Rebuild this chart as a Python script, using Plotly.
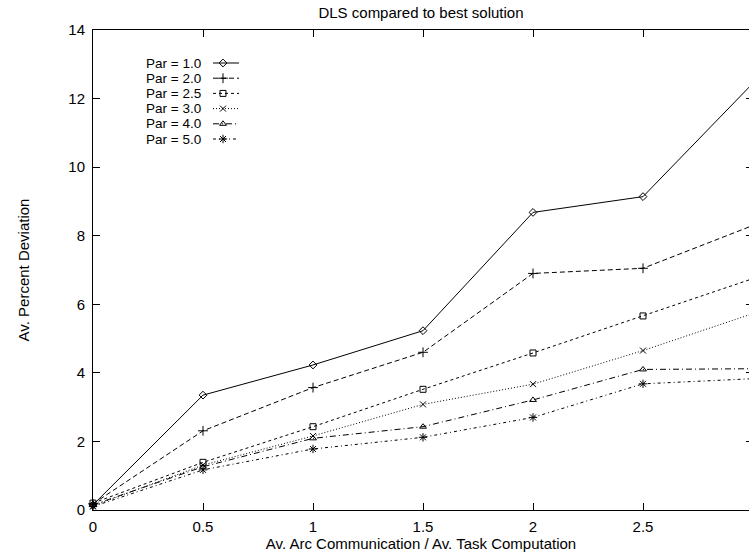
import plotly.graph_objects as go

# ---- data ----
x_vals = [0, 0.5, 1, 1.5, 2, 2.5, 3]
series_names = ["Par = 1.0", "Par = 2.0", "Par = 2.5", "Par = 3.0", "Par = 4.0", "Par = 5.0"]
par_10 = [0.15, 3.35, 4.23, 5.23, 8.68, 9.14, 12.45]
par_20 = [0.18, 2.31, 3.57, 4.60, 6.90, 7.05, 8.30]
par_25 = [0.20, 1.39, 2.43, 3.52, 4.58, 5.66, 6.75]
par_30 = [0.12, 1.31, 2.16, 3.08, 3.67, 4.65, 5.73]
par_40 = [0.15, 1.26, 2.09, 2.43, 3.21, 4.10, 4.12]
par_50 = [0.10, 1.17, 1.78, 2.12, 2.70, 3.68, 3.83]
x_tick_vals = [0, 0.5, 1, 1.5, 2, 2.5, 3]
x_tick_text = ["0", "0.5", "1", "1.5", "2", "2.5", "3"]
y_tick_vals = [0, 2, 4, 6, 8, 10, 12, 14]

all_series = [par_10, par_20, par_25, par_30, par_40, par_50]

# ---- styles ----
FONT = "Liberation Sans, Arial, Helvetica, sans-serif"
FS = 15
FS_KEY = 13.5
INK = "#000000"
dashes = ["solid", "5px,3px", "3px,3px", "1px,2px", "6px,3px,1px,3px", "3px,3px,1px,3px"]
symbols = ["diamond-open", "cross-thin-open", "square-open", "x-thin-open", "triangle-up-open", "asterisk-open"]
msizes = [6, 7, 6, 6, 6, 7]

W, H = 749, 553
PLOT_L, PLOT_T, PLOT_B = 93, 30, 510     # plot area in page pixels
ML, MT, MB = PLOT_L, PLOT_T, H - PLOT_B
px_per_unit_x = 220.0
x_max = (W - PLOT_L) / px_per_unit_x     # right part of the frame lies beyond the page edge

fig = go.Figure()
for name, ys, dash, sym, ms in zip(series_names, all_series, dashes, symbols, msizes):
    fig.add_trace(go.Scatter(
        x=x_vals, y=ys, mode="lines+markers", name=name,
        line=dict(color=INK, width=1, dash=dash),
        marker=dict(symbol=sym, size=ms, color=INK, line=dict(color=INK, width=1)),
        cliponaxis=False, showlegend=False,
    ))

# ---- manual gnuplot-style key (text, then sample) on a pixel overlay axis ----
key_text_right = 202
key_sample_x0, key_sample_x1, key_marker_x = 213, 239, 223
key_row0, key_row_step = 63, 15.2
for i, (name, dash, sym, ms) in enumerate(zip(series_names, dashes, symbols, msizes)):
    ry = key_row0 + i * key_row_step
    fig.add_trace(go.Scatter(
        x=[key_sample_x0, key_sample_x1], y=[ry, ry], mode="lines",
        line=dict(color=INK, width=1, dash=dash),
        xaxis="x3", yaxis="y3", showlegend=False, hoverinfo="skip",
    ))
    fig.add_trace(go.Scatter(
        x=[key_marker_x], y=[ry], mode="markers",
        marker=dict(symbol=sym, size=ms, color=INK, line=dict(color=INK, width=1)),
        xaxis="x3", yaxis="y3", showlegend=False, hoverinfo="skip",
    ))
    fig.add_annotation(
        x=key_text_right, y=ry, xref="x3", yref="y3", text=name,
        showarrow=False, xanchor="right", yanchor="middle", borderpad=0,
        font=dict(family=FONT, size=FS_KEY, color=INK),
    )

fig.update_layout(
    width=W, height=H,
    margin=dict(l=ML, r=0, t=MT, b=MB, pad=0),
    paper_bgcolor="white", plot_bgcolor="white",
    font=dict(family=FONT, size=FS, color=INK),
    showlegend=False,
    title=dict(text="DLS compared to best solution", x=0.5, xref="paper",
               y=1 - 13 / H, yref="container", yanchor="middle",
               font=dict(family=FONT, size=FS, color=INK)),
    xaxis=dict(
        range=[0, x_max], tickvals=x_tick_vals, ticktext=x_tick_text,
        ticks="inside", ticklen=7, tickwidth=1, tickcolor=INK,
        showline=True, linecolor=INK, linewidth=1, mirror="ticks",
        showgrid=False, zeroline=False, ticklabelstandoff=3,
        title=dict(text="Av. Arc Communication / Av. Task Computation", standoff=0,
                   font=dict(family=FONT, size=FS, color=INK)),
    ),
    yaxis=dict(
        range=[0, 14], tickvals=y_tick_vals,
        ticks="inside", ticklen=7, tickwidth=1, tickcolor=INK,
        showline=True, linecolor=INK, linewidth=1,
        showgrid=False, zeroline=False, ticklabelstandoff=4,
        title=dict(text="Av. Percent Deviation", standoff=35,
                   font=dict(family=FONT, size=FS, color=INK)),
    ),
    yaxis2=dict(
        overlaying="y", side="right", matches="y", tickvals=y_tick_vals,
        ticks="inside", ticklen=3, tickwidth=1, tickcolor=INK,
        showticklabels=False, showline=False, showgrid=False, zeroline=False,
    ),
    xaxis3=dict(overlaying="x", range=[PLOT_L, W], visible=False, fixedrange=True),
    yaxis3=dict(overlaying="y", range=[PLOT_B, PLOT_T], visible=False, fixedrange=True),
)

# dummy trace to activate the right-side tick axis
fig.add_trace(go.Scatter(x=[None], y=[None], yaxis="y2", showlegend=False, hoverinfo="skip"))

fig.write_html("out.html", config={"displayModeBar": False},
               post_script="document.body.style.margin='0px';")
